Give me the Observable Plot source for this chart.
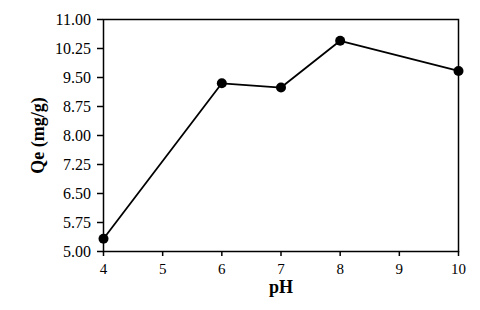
<!DOCTYPE html>
<html>
<head>
<meta charset="utf-8">
<script src="https://cdn.jsdelivr.net/npm/d3@7"></script>
<script src="https://cdn.jsdelivr.net/npm/@observablehq/plot@0.6"></script>
<style>
  html, body { margin: 0; padding: 0; background: #fff; }
</style>
</head>
<body>
<div id="chart"></div>
<script>
const pH = [4, 6, 7, 8, 10];
const qe = [5.33, 9.35, 9.24, 10.45, 9.67];
const xTicks = [4, 5, 6, 7, 8, 9, 10];
const yTicks = [5.00, 5.75, 6.50, 7.25, 8.00, 8.75, 9.50, 10.25, 11.00];
const xLabel = "pH";
const yLabel = "Qe (mg/g)";

const data = pH.map((p, i) => ({pH: p, qe: qe[i]}));
const FONT = "Liberation Serif";

const chart = Plot.plot({
  width: 480,
  height: 310,
  marginLeft: 103,
  marginRight: 22,
  marginTop: 19,
  marginBottom: 59,
  style: {fontFamily: FONT, fontSize: "15px", color: "#000", background: "#fff"},
  x: {domain: [4, 10]},
  y: {domain: [5, 11]},
  marks: [
    Plot.frame({stroke: "#000", strokeWidth: 1.5}),
    Plot.axisX({ticks: xTicks, tickSize: 5, tickPadding: 7, stroke: "#000", strokeWidth: 1.5, label: null, fontFamily: FONT, fontSize: 15, fill: "#000", tickFormat: d => String(d)}),
    Plot.axisY({ticks: yTicks, tickSize: 6, tickPadding: 6.5, stroke: "#000", strokeWidth: 1.5, label: null, fontFamily: FONT, fontSize: 16, fill: "#000", tickFormat: d3.format(".2f")}),
    Plot.line(data, {x: "pH", y: "qe", stroke: "#000", strokeWidth: 1.8}),
    Plot.dot(data, {x: "pH", y: "qe", r: 5, fill: "#000", stroke: "none"}),
    Plot.text([xLabel], {frameAnchor: "bottom", dy: 41, text: d => d, fontFamily: FONT, fontWeight: "bold", fontSize: 18, fill: "#000"}),
    Plot.text([yLabel], {frameAnchor: "left", dx: -65, rotate: -90, text: d => d, fontFamily: FONT, fontWeight: "bold", fontSize: 18, fill: "#000", textAnchor: "middle"})
  ]
});
document.getElementById("chart").appendChild(chart);
</script>
</body>
</html>
